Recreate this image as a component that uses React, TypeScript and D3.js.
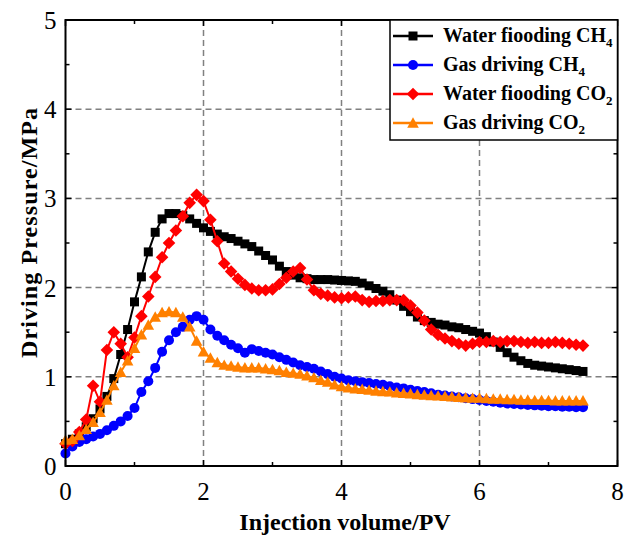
import React from "react";
import * as d3 from "d3";

// Injection volume (PV) sampled for every series
const PV = [
  0.0, 0.1, 0.2, 0.3, 0.4, 0.5, 0.6, 0.7, 0.8, 0.9,
  1.0, 1.1, 1.2, 1.3, 1.4, 1.5, 1.6, 1.7, 1.8, 1.9,
  2.0, 2.1, 2.2, 2.3, 2.4, 2.5, 2.6, 2.7, 2.8, 2.9,
  3.0, 3.1, 3.2, 3.3, 3.4, 3.5, 3.6, 3.7, 3.8, 3.9,
  4.0, 4.1, 4.2, 4.3, 4.4, 4.5, 4.6, 4.7, 4.8, 4.9,
  5.0, 5.1, 5.2, 5.3, 5.4, 5.5, 5.6, 5.7, 5.8, 5.9,
  6.0, 6.1, 6.2, 6.3, 6.4, 6.5, 6.6, 6.7, 6.8, 6.9,
  7.0, 7.1, 7.2, 7.3, 7.4, 7.5,
];

// Driving pressure (MPa)
const waterCH4 = [
  0.25, 0.30, 0.36, 0.44, 0.53, 0.64, 0.78, 0.98, 1.25, 1.53,
  1.84, 2.12, 2.40, 2.62, 2.77, 2.83, 2.83, 2.81, 2.77, 2.72,
  2.67, 2.63, 2.60, 2.57, 2.55, 2.52, 2.49, 2.46, 2.41, 2.36,
  2.31, 2.24, 2.18, 2.14, 2.11, 2.10, 2.09, 2.09, 2.09, 2.085,
  2.08, 2.075, 2.07, 2.05, 2.02, 1.99, 1.96, 1.92, 1.86, 1.79,
  1.73, 1.67, 1.63, 1.61, 1.59, 1.58, 1.56, 1.55, 1.53, 1.51,
  1.49, 1.45, 1.39, 1.33, 1.27, 1.22, 1.18, 1.15, 1.13, 1.12,
  1.11, 1.10, 1.09, 1.08, 1.07, 1.06,
];

const gasCH4 = [
  0.14, 0.22, 0.27, 0.30, 0.33, 0.36, 0.40, 0.45, 0.50, 0.56,
  0.65, 0.83, 0.95, 1.10, 1.28, 1.41, 1.50, 1.56, 1.64, 1.68,
  1.64, 1.53, 1.46, 1.41, 1.36, 1.32, 1.27, 1.31, 1.29, 1.27,
  1.25, 1.22, 1.19, 1.16, 1.13, 1.11, 1.09, 1.06, 1.03, 1.00,
  0.98, 0.96, 0.95, 0.94, 0.93, 0.92, 0.91, 0.895, 0.88, 0.87,
  0.855, 0.84, 0.83, 0.815, 0.80, 0.79, 0.78, 0.77, 0.76, 0.75,
  0.74, 0.73, 0.72, 0.71, 0.70, 0.695, 0.69, 0.685, 0.68, 0.675,
  0.67, 0.67, 0.665, 0.665, 0.66, 0.66,
];

const waterCO2 = [
  0.25, 0.28, 0.38, 0.52, 0.90, 0.72, 1.30, 1.50, 1.37, 1.22,
  1.44, 1.68, 1.90, 2.12, 2.34, 2.50, 2.64, 2.80, 2.95, 3.04,
  2.97, 2.76, 2.52, 2.27, 2.18, 2.10, 2.03, 1.99, 1.97, 1.97,
  1.98, 2.04, 2.11, 2.18, 2.22, 2.09, 1.97, 1.93, 1.91, 1.89,
  1.88, 1.89, 1.90, 1.86, 1.84, 1.85, 1.85, 1.86, 1.86, 1.86,
  1.80, 1.72, 1.63, 1.53, 1.47, 1.43, 1.40, 1.37, 1.35, 1.37,
  1.39, 1.39, 1.40, 1.39, 1.40, 1.40, 1.39, 1.38, 1.39, 1.38,
  1.38, 1.39, 1.38, 1.37, 1.36, 1.35,
];

const gasCO2 = [
  0.29, 0.30, 0.34, 0.41, 0.49, 0.60, 0.74, 0.90, 1.05, 1.18,
  1.32, 1.47, 1.58, 1.67, 1.72, 1.73, 1.72, 1.67, 1.56, 1.40,
  1.28, 1.21, 1.16, 1.13, 1.12, 1.11, 1.10, 1.10, 1.10, 1.09,
  1.08, 1.07, 1.05, 1.04, 1.03, 1.01, 0.99, 0.96, 0.94, 0.91,
  0.89, 0.875, 0.865, 0.86, 0.85, 0.84, 0.835, 0.83, 0.82, 0.815,
  0.81, 0.80, 0.795, 0.79, 0.785, 0.78, 0.775, 0.77, 0.765, 0.76,
  0.76, 0.755, 0.75, 0.75, 0.745, 0.745, 0.74, 0.74, 0.735, 0.735,
  0.735, 0.73, 0.73, 0.73, 0.73, 0.73,
];

const xTicks = [0, 2, 4, 6, 8];
const xMinor = [1, 3, 5, 7];
const yTicks = [0, 1, 2, 3, 4, 5];
const yMinor = [0.5, 1.5, 2.5, 3.5, 4.5];

type Shape = "square" | "circle" | "diamond" | "triangle";

const series: { name: string; sub: string; values: number[]; color: string; shape: Shape }[] = [
  { name: "Water fiooding CH", sub: "4", values: waterCH4, color: "#000000", shape: "square" },
  { name: "Gas driving CH", sub: "4", values: gasCH4, color: "#0000ff", shape: "circle" },
  { name: "Water fiooding CO", sub: "2", values: waterCO2, color: "#ff0000", shape: "diamond" },
  { name: "Gas driving CO", sub: "2", values: gasCO2, color: "#ff8000", shape: "triangle" },
];

const W = 626;
const H = 540;
const x = d3.scaleLinear().domain([0, 8]).range([65.5, 617.5]);
const y = d3.scaleLinear().domain([0, 5]).range([466, 20]);

const serif = "'Liberation Serif', 'Times New Roman', serif";

function Marker({ shape, cx, cy, color }: { shape: Shape; cx: number; cy: number; color: string }) {
  if (shape === "square") {
    return <rect x={cx - 4.5} y={cy - 4.5} width={9} height={9} fill={color} />;
  }
  if (shape === "circle") {
    return <circle cx={cx} cy={cy} r={5} fill={color} />;
  }
  if (shape === "diamond") {
    const d = 6.3;
    return <path d={`M${cx},${cy - d}L${cx + d},${cy}L${cx},${cy + d}L${cx - d},${cy}Z`} fill={color} />;
  }
  const s = 5.8;
  return <path d={`M${cx},${cy - s}L${cx + s},${cy + s * 0.8}L${cx - s},${cy + s * 0.8}Z`} fill={color} />;
}

export default function App() {
  const line = d3
    .line<number>()
    .x((_, i) => x(PV[i]))
    .y((v) => y(v));

  const [x0, x1] = x.range();
  const [yb, yt] = y.range();

  return (
    <svg
      width={W}
      height={H}
      viewBox={`0 0 ${W} ${H}`}
      style={{ position: "absolute", left: 0, top: 0, background: "#fff" }}
    >
      <rect width={W} height={H} fill="#fff" />

      {/* grid */}
      <g stroke="#808080" strokeWidth={1.5} strokeDasharray="6,4">
        {xTicks.filter((t) => t > 0 && t < 8).map((t) => (
          <line key={`gx${t}`} x1={x(t)} x2={x(t)} y1={yb} y2={yt} />
        ))}
        {yTicks.filter((t) => t > 0 && t < 5).map((t) => (
          <line key={`gy${t}`} x1={x0} x2={x1} y1={y(t)} y2={y(t)} />
        ))}
      </g>

      {/* series */}
      {series.map((s) => (
        <g key={s.name + s.sub}>
          <path d={line(s.values) || ""} fill="none" stroke={s.color} strokeWidth={2} />
          {s.values.map((v, i) => (
            <Marker key={i} shape={s.shape} cx={x(PV[i])} cy={y(v)} color={s.color} />
          ))}
        </g>
      ))}

      {/* ticks, inward on all four sides */}
      <g stroke="#000" strokeWidth={1.5}>
        {xTicks.map((t) => (
          <g key={`tx${t}`}>
            <line x1={x(t)} x2={x(t)} y1={yb} y2={yb - 6} />
            <line x1={x(t)} x2={x(t)} y1={yt} y2={yt + 6} />
          </g>
        ))}
        {xMinor.map((t) => (
          <g key={`mx${t}`}>
            <line x1={x(t)} x2={x(t)} y1={yb} y2={yb - 4} />
            <line x1={x(t)} x2={x(t)} y1={yt} y2={yt + 4} />
          </g>
        ))}
        {yTicks.map((t) => (
          <g key={`ty${t}`}>
            <line x1={x0} x2={x0 + 6} y1={y(t)} y2={y(t)} />
            <line x1={x1} x2={x1 - 6} y1={y(t)} y2={y(t)} />
          </g>
        ))}
        {yMinor.map((t) => (
          <g key={`my${t}`}>
            <line x1={x0} x2={x0 + 4} y1={y(t)} y2={y(t)} />
            <line x1={x1} x2={x1 - 4} y1={y(t)} y2={y(t)} />
          </g>
        ))}
      </g>

      {/* frame */}
      <rect x={x0} y={yt} width={x1 - x0} height={yb - yt} fill="none" stroke="#000" strokeWidth={2} />

      {/* tick labels */}
      <g fontFamily={serif} fontSize={25} fill="#000">
        {xTicks.map((t) => (
          <text key={`lx${t}`} x={x(t)} y={yb + 34} textAnchor="middle">
            {t}
          </text>
        ))}
        {yTicks.map((t) => (
          <text key={`ly${t}`} x={x0 - 9} y={y(t) + 9} textAnchor="end">
            {t}
          </text>
        ))}
      </g>

      {/* axis titles */}
      <text
        x={345}
        y={530}
        textAnchor="middle"
        fontFamily={serif}
        fontWeight="bold"
        fontSize={24}
      >
        Injection volume/PV
      </text>
      <text
        transform={`translate(37,233) rotate(-90)`}
        textAnchor="middle"
        fontFamily={serif}
        fontWeight="bold"
        fontSize={24}
        textLength={250}
        lengthAdjust="spacing"
      >
        Driving Pressure/MPa
      </text>

      {/* legend */}
      <g>
        <rect x={390} y={20} width={x1 - 390} height={120} fill="#fff" stroke="#000" strokeWidth={1.5} />
        {series.map((s, i) => {
          const ly = 36 + i * 29;
          return (
            <g key={`lg${i}`}>
              <line x1={393} x2={433} y1={ly} y2={ly} stroke={s.color} strokeWidth={2.5} />
              <Marker shape={s.shape} cx={413} cy={ly} color={s.color} />
              <text x={443} y={ly + 6} fontFamily={serif} fontWeight="bold" fontSize={20}>
                {s.name}
                <tspan fontSize={13} dy={5}>
                  {s.sub}
                </tspan>
              </text>
            </g>
          );
        })}
      </g>
    </svg>
  );
}
